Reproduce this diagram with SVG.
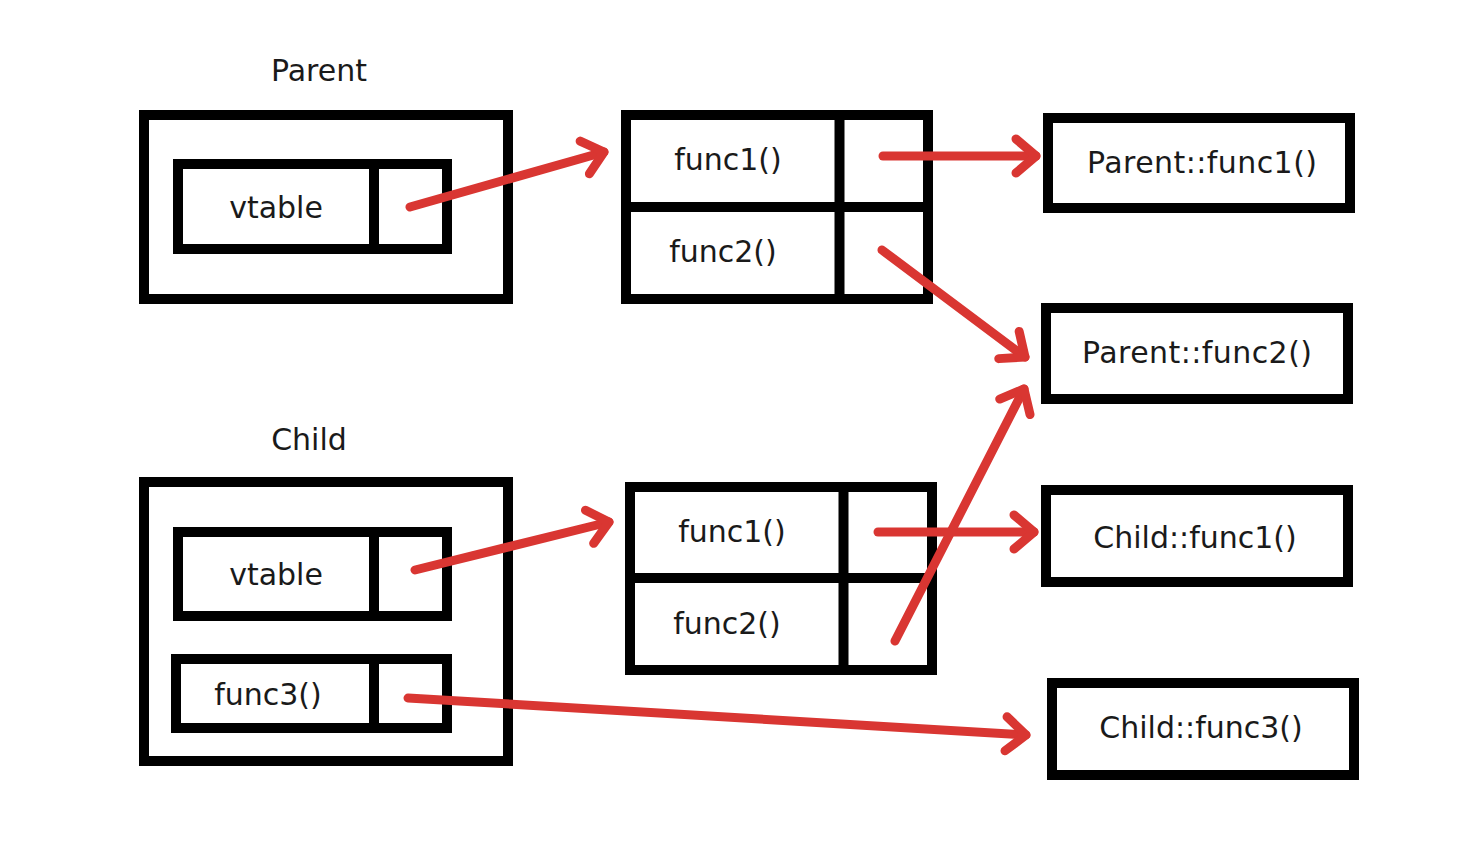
<svg xmlns="http://www.w3.org/2000/svg" width="1482" height="864" viewBox="0 0 1482 864">
<style>
.box{fill:none;stroke:#000;stroke-width:10}
.div{stroke:#000;stroke-width:10}
.t{font-family:"DejaVu Sans",Verdana,sans-serif;font-size:30px;fill:#1a1a1a;text-anchor:middle}
.arr{fill:none;stroke:#d93632;stroke-width:9;stroke-linecap:round;marker-end:url(#head)}
</style>
<defs>
<marker id="head" markerUnits="userSpaceOnUse" viewBox="-30 -25 40 50" markerWidth="40" markerHeight="50" refX="0" refY="0" orient="auto" overflow="visible">
<path d="M-20,-17 L0,0 L-20,17" fill="none" stroke="#d93632" stroke-width="9" stroke-linecap="round" stroke-linejoin="round"/>
</marker>
</defs>
<rect width="1482" height="864" fill="#fff"/>
<g id="parent">
<text class="t" x="319" y="81">Parent</text>
<rect class="box" x="144" y="115" width="364" height="184"/>
</g>
<g id="parent-vtable">
<rect class="box" x="178" y="164" width="269" height="85"/>
<line class="div" x1="374" y1="164" x2="374" y2="249"/>
<text class="t" x="276" y="218">vtable</text>
</g>
<g id="parent-vtbl">
<rect class="box" x="626" y="115" width="302" height="184"/>
<line class="div" x1="626" y1="207" x2="928" y2="207"/>
<line class="div" x1="839.5" y1="115" x2="839.5" y2="299"/>
<text class="t" x="728" y="170">func1()</text>
<text class="t" x="723" y="262">func2()</text>
</g>
<g id="child">
<text class="t" x="309" y="450">Child</text>
<rect class="box" x="144" y="482" width="364" height="279"/>
</g>
<g id="child-vtable">
<rect class="box" x="178" y="532" width="269" height="84"/>
<line class="div" x1="374" y1="532" x2="374" y2="616"/>
<text class="t" x="276" y="585">vtable</text>
</g>
<g id="child-func3">
<rect class="box" x="176" y="659" width="271" height="69"/>
<line class="div" x1="374" y1="659" x2="374" y2="728"/>
<text class="t" x="268" y="705">func3()</text>
</g>
<g id="child-vtbl">
<rect class="box" x="630" y="487" width="302" height="183"/>
<line class="div" x1="630" y1="578" x2="932" y2="578"/>
<line class="div" x1="843.5" y1="487" x2="843.5" y2="670"/>
<text class="t" x="732" y="542">func1()</text>
<text class="t" x="727" y="634">func2()</text>
</g>
<g id="parent-func1">
<rect class="box" x="1048" y="118" width="302" height="90"/>
<text class="t" x="1202" y="173" textLength="230" lengthAdjust="spacing">Parent::func1()</text>
</g>
<g id="parent-func2">
<rect class="box" x="1046" y="308" width="302" height="91"/>
<text class="t" x="1197" y="363" textLength="230" lengthAdjust="spacing">Parent::func2()</text>
</g>
<g id="child-func1-impl">
<rect class="box" x="1046" y="490" width="302" height="92"/>
<text class="t" x="1195" y="548">Child::func1()</text>
</g>
<g id="child-func3-impl">
<rect class="box" x="1052" y="683" width="302" height="92"/>
<text class="t" x="1201" y="738">Child::func3()</text>
</g>
<g id="connectors">
<path class="arr" d="M410,207 L604,152"/>
<path class="arr" d="M883,156 L1036,156"/>
<path class="arr" d="M882,250 L1025,357"/>
<path class="arr" d="M895,641 L1024,389"/>
<path class="arr" d="M878,532 L1034,532"/>
<path class="arr" d="M415,570 L609,522"/>
<path class="arr" d="M408,698 L1026,735"/>
</g>
</svg>
